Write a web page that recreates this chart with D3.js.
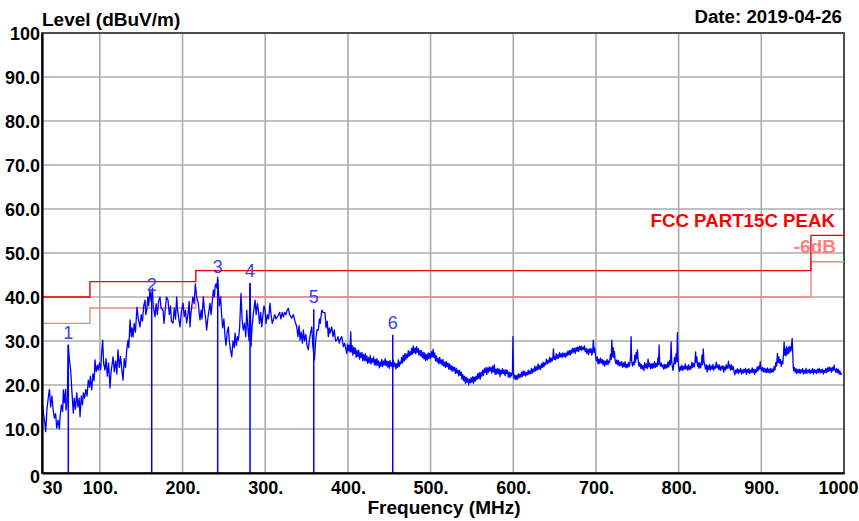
<!DOCTYPE html>
<html>
<head>
<meta charset="utf-8">
<script src="https://cdn.jsdelivr.net/npm/d3@7"></script>
<style>
  html, body { margin: 0; padding: 0; background: #ffffff; }
  svg { display: block; }
  text { font-family: "Liberation Sans", Arial, sans-serif; }
</style>
</head>
<body>
<svg id="chart" width="859" height="521"></svg>
<script>
// ---------------- DATA ----------------
const xTickValues = [30, 100, 200, 300, 400, 500, 600, 700, 800, 900, 1000];
const xTickLabels = ["30", "100.", "200.", "300.", "400.", "500.", "600.", "700.", "800.", "900.", "1000"];
const yTickValues = [0, 10, 20, 30, 40, 50, 60, 70, 80, 90, 100];
const yTickLabels = ["0", "10.0", "20.0", "30.0", "40.0", "50.0", "60.0", "70.0", "80.0", "90.0", "100"];

const limitFreq   = [30, 88, 88, 216, 216, 960, 960, 1000];
const limitLevel  = [40, 40, 43.5, 43.5, 46, 46, 54, 54];
const marginLevel = [34, 34, 37.5, 37.5, 40, 40, 48, 48];

const markerLabels = ["1", "2", "3", "4", "5", "6"];
const markerFreq   = [61.8, 162.7, 242.5, 281.6, 358.7, 454.2];
const markerLevel  = [29.1, 40.0, 44.0, 43.1, 37.2, 31.4];

// measured trace: [frequency MHz, level dBuV/m]
const trace = [
[30,16.2],[31.5,14],[33,12],[34.5,9.4],[36,14.5],[37.5,17],[39,19],[40.5,15],[42,17.5],[43.5,14.3],
[45,12.5],[46.5,13.5],[47.8,10.2],[49.5,12],[51,10],[52,13],[53.5,15.5],[55,14],[55.8,18.9],[57,16],
[58.5,19],[59,14.3],[60.5,16],[61.8,29.1],[63,26],[64.7,23.4],[66,19],[67.9,13.6],[69,17],[70.5,14.5],
[72,18.2],[73.5,15],[75,17],[76,12.8],[77.5,17.5],[79,15.5],[80,18.2],[81.5,17],[83,19],[84.5,17.5],
[86,21.1],[87.5,19.5],[88.5,22],[90.1,18.9],[91.5,22.5],[93,21],[94.1,25.7],[95.5,23],[97,24.5],[98.1,23.4],
[99.5,25],[101,23.5],[102,27],[103.4,30.2],[104.5,25],[106.2,23.4],[107.5,26],[109,22],[110.5,25],[112.3,19.3],
[113.5,23],[115,25],[115.9,26.4],[117.5,23],[119,25.5],[120.5,22.5],[121.9,28],[123.5,24],[125,26.5],[126.5,23.5],
[128,21.1],[129.5,26],[131,24],[132.5,28],[134,30.2],[135,28.5],[136.5,34.8],[138,31],[139,33],[140.1,30.9],
[141.5,34],[143,32],[144.9,37.7],[146.5,35],[148.5,33.2],[150,36],[151.5,34.5],[153,38],[154.6,39.3],[155.5,36],
[156.7,37],[158,40],[159,38],[160.6,41.6],[162,39],[163.5,42],[164.5,38],[166.7,35.5],[168,38.5],[169.5,36],
[171,39],[172.7,40],[174,37.5],[176.4,37],[177.5,34],[179,37],[180.5,40],[182.4,39.3],[184,36],[185.5,38],
[186.5,34.5],[188.5,34.1],[190,37.5],[191.5,35],[192.9,40],[194,37],[195.5,35],[196.9,33.2],[198.5,36.5],[200.6,38.6],
[202,35.5],[203.5,37],[205,34.1],[206.5,36],[208,39],[209,33.2],[210,36],[211.1,37.8],[212.5,40],[214,38.5],
[215.5,43],[217,40],[219.1,38.6],[220,36.5],[221.1,34.8],[222.5,37],[223.5,35],[225.1,40],[226.5,37],[228,35],
[229.2,32.5],[230.5,35],[232,37],[233.2,38.6],[234.5,36],[236,39],[237.2,41.6],[238.5,40],[239.5,42.5],[240.5,43],
[241.5,42],[242.5,44.5],[243.3,41.6],[244.5,38],[246,40],[247.4,35.5],[248.5,33],[250,35],[251.4,31],[252.5,29],
[254,32],[255.4,33.2],[256.5,30],[258,28],[259.5,26.4],[261,30],[262.5,28.5],[263.5,31.8],[265,29],[266.5,31],
[267.5,30.2],[269,33],[270.7,40.8],[272,35],[273.5,32.5],[275,34],[276.5,31],[277.6,37],[279,33],[280.5,30],
[281.6,43.1],[282.8,28.7],[284,33],[285.5,36],[287.7,39.3],[289,36],[290.5,38.5],[291.7,37],[293,34],[294.5,36.5],
[295.8,33.2],[297,35.5],[298.5,38],[299.8,37],[301,34],[302.5,36],[304,35],[305.8,38.6],[307,36],[308.5,34],
[309.8,34.8],[311.5,36],[313,35],[315.9,35.9],[317.5,36.5],[319,35],[320.5,36.5],[321.9,35.5],[323.5,36.5],[325,36],
[326.5,37],[328,37.4],[329.5,36],[331,35.5],[332.1,35.2],[334,36],[336,34.5],[338.1,33.2],[339.5,31],[341,33.5],
[342.1,30.2],[343.5,32],[345,29.5],[346.1,32.5],[347.5,30],[349,31.5],[350.5,29],[352.1,28],[353.5,30.5],[355,32],
[356.3,33.2],[357.5,29],[358.7,27],[359.5,25.7],[361,30],[362.5,32.5],[364.2,32.5],[365.5,35],[366.5,34],[368.4,37],
[370,36.5],[372.3,36.4],[373.5,33],[375,34.5],[376.3,31],[377.5,33],[378.5,31.8],[380.5,33.2],[382,31],[383.5,32.5],
[385,30],[386.5,30.2],[388,31],[389.5,29.5],[391,30.5],[392.5,31],[394.5,28.7],[396,29.5],
[398.6,27.2],[399.5,29.3],[400.5,27.8],[401.5,29],[402.5,27.5],[403.4,32.1],[404.2,27.5],[405,29],[406,26.8],[407,28.6],
[408,27.2],[409,28.4],[410,26.3],[411,27.8],[412,26.5],[413,27.9],[414,25.9],[415,27.3],[416,26.2],[417,27.4],
[418,25.5],[419,26.9],[420,25.6],[421,27.1],[422,25.4],[423,26.6],[424,24.9],[425,26.2],[426,25.1],[427,26.7],
[428,24.8],[429,26],[430,25.2],[431,26.4],[432,24.6],[433,25.8],[434,24.4],[435,26],[436,24.5],[437,25.5],
[438,23.9],[439,25.2],[440,24.3],[441,25.8],[442,24.2],[443,25.4],[444,24.6],[445,26],[446,24.4],[447,25.5],
[448,24.1],[449,25.3],[450,23.8],[451,25.6],[452,24.3],[453,25.1],[454,23.7],[455,25.6],[456,24.2],[457,25],
[458,23.6],[459,24.8],[460,24],[461,25.7],[462,24.2],[463,25.2],[464,24.8],[465,26.3],[466,25],[467,26.8],
[468,25.4],[469,27.2],[470,25.8],[471,27],[472,26.2],[473,27.8],[474,26.5],[475,27.6],[476,26.8],[477,28.3],
[478,27],[479,28.9],[480,27.3],[481,28.4],[482,27.1],[483,28.7],[484,27.4],[485,28.3],[486,26.8],[487,27.9],
[488,26.6],[489,27.8],[490,26.2],[491,27.4],[492,25.9],[493,27.3],[494,25.6],[495,26.9],[496,25.7],[497,27.3],
[498,26],[499,27.2],[500,26.1],[501,27.6],[502,26.4],[503,28.1],[504,26.2],[505,27.3],[506,25.5],[507,26.6],
[508,25.2],[509,26.1],[510,24.8],[511,26.3],[512,24.9],[513,25.7],[514,24.5],[515,25.8],[516,24.3],[517,25.2],
[518,24],[519,25.3],[520,24.2],[521,25],[522,23.6],[523,24.8],[524,23.5],[525,24.4],[526,23.1],[527,24.2],
[528,23.3],[529,24],[530,22.6],[531,23.8],[532,22.7],[533,23.4],[534,22.1],[535,23.3],[536,22.2],[537,23],
[538,21.3],[539,22.4],[540,21],[541,22],[542,20.4],[543,21.8],[544,20.6],[545,21.5],[546,20.1],[547,21.3],
[548,20.5],[549,21.7],[550,20.6],[551,21.9],[552,20.4],[553,21.8],[554,20.9],[555,22],[556,21.2],[557,22.6],
[558,21.5],[559,22.8],[560,21.3],[561,22.9],[562,22],[563,23.4],[564,22.2],[565,23.7],[566,22.8],[567,24],
[568,22.4],[569,23.9],[570,22.9],[571,24.1],[572,23.2],[573,24],[574,22.7],[575,24.3],[576,23],[577,24.6],
[578,22.4],[579,23.6],[580,22.5],[581,23.8],[582,22.6],[583,23.6],[584,21.9],[585,23.4],[586,22.5],[587,23.7],
[588,22.6],[589,23.4],[590,22.1],[591,23.5],[592,22.6],[593,23.3],[594,21.8],[595,22.9],[596,21.7],[597,22.8],
[598,22.1],[599,23],[599.6,31],[600.3,22.4],[601,21.4],[602,22.3],[603,21.2],[604,22.1],[605,21.3],[606,22.6],
[607,21.6],[608,22.4],[609,21.8],[610,22.9],[611,21.9],[612,23.2],[613,22.2],[614,23.1],[615,22],[616,22.8],
[617,22.3],[618,23.4],[619,22.4],[620,23.2],[621,22.6],[622,23.8],[623,22.7],[624,23.6],[625,23],[626,24.3],
[627,23.2],[628,24.1],[629,23.4],[630,24.8],[631,23.6],[632,24.4],[633,23.5],[634,24.8],[635,24],[636,25.2],
[637,24.1],[638,25],[639,24.6],[640,25.9],[641,24.8],[642,25.6],[643,25],[644,26.3],[645,25.2],[646,26.1],
[647,25.4],[648,26.5],[648.6,28.2],[649.5,25.8],[650,26.4],[651,25.7],[652,27.1],[653,26],[654,26.9],[655,26.1],
[656,27.4],[657,26.4],[658,27.1],[659,26.2],[660,27.3],[661,26.5],[662,27.2],[663,26.3],[664,27.3],[665,26.6],
[666,27.7],[667,26.9],[668,27.8],[669,26.8],[670,28],[671,27.2],[672,28.4],[673,27.5],[674,28.3],[675,27.2],
[676,28.5],[677,27.7],[678,28.6],[679,27.6],[680,28.8],[681,28],[682,28.9],[683,27.9],[684,28.6],[685,28.1],
[686,28.9],[687,27.6],[688,28.3],[689,27.2],[690,28.1],[691,26.9],[692,28.2],[693,27.4],[694,28.3],[695,26.8],
[696,27.6],[696.9,30.2],[697.8,27.4],[698.5,28.4],[699.5,26.6],[700.5,25.5],[701.5,26.4],[702.5,24.8],[703.5,25.9],[704.5,24.9],
[705.5,26.1],[706.5,25],[707.5,25.8],[708.5,24.6],[709.5,25.6],[710.5,24.3],[711.5,25.4],[712.5,24.7],[713.5,25.8],[714.5,24.6],
[715.5,25.5],[716.5,25.1],[717.5,27],[718.5,25.8],[719.2,30.2],[720,26.5],[720.8,28.5],[721.6,26.2],[722.4,27.6],[723.2,25.6],
[724.2,24.8],[725.2,25.7],[726.2,24.6],[727.2,25.6],[728.2,24.3],[729.2,25.2],[730.2,24.4],[731.2,25.3],[732.2,24],[733.2,25],
[734.2,24.2],[735.2,25.3],[736.2,23.9],[737.2,24.7],[738.2,24],[739.2,25.1],[740.2,24.2],[741.2,25],[742,27],[742.5,31],
[743.2,25.4],[744.2,24.3],[745.2,25.2],[746.2,24.6],[747,26.8],[747.8,25.2],[748.6,27.4],[749.4,26],[750.2,28],[751,25.6],
[752,24.3],[753,25.1],[754,23.8],[755,24.7],[756,23.6],[757,24.4],[758,23.3],[759,25.1],[760,23.9],[761,24.8],
[762,23.7],[763,25.9],[764,24.1],[765,25],[766,23.7],[767,24.8],[768,23.8],[769,24.9],[770,23.9],[771,25.3],
[772,24],[773,24.9],[774,24.2],[775,26.2],[775.8,24.6],[776.4,29.1],[777,25.4],[778,24.3],[779,25],[780,24.1],
[781,24.6],[782,23.6],[783,24.7],[784,23.8],[785,24.6],[786,23.9],[787,25.2],[788,24.1],[789,25.6],[790,24.6],
[790.9,29.8],[791.6,25.4],[792.4,24.2],[793.2,23.3],[794,24.5],[795,26.3],[796,24.8],[797,27.2],[797.8,25.3],[798.5,31.9],
[799.2,26.2],[800,24],[801,23.1],[802,24.2],[803,23.4],[804,24.5],[805,23.3],[806,24.2],[807,23.6],[808,24.8],
[809,23.6],[810,24.3],[811,23.4],[812,24.6],[813,23.5],[814,24.3],[815,23.6],[816,25.2],[817,24],[818,24.9],
[819,24.1],[819.8,25.4],[820.5,27.5],[821.2,25.2],[822,26.4],[822.8,24.3],[823.6,25.1],[824.5,23.8],[825.5,25.1],[826.5,23.9],
[827.5,24.8],[828.3,26.8],[829,24.6],[829.8,28.2],[830.6,25.3],[831.5,24.6],[832.5,23.6],[833.5,24.6],[834.5,23],[835.5,24.4],
[836.5,23.5],[837.5,24.7],[838.5,23.4],[839.5,24.3],[840.5,23.6],[841.5,24.7],[842.5,23.4],[843.5,24.2],[844.5,23.8],[845.5,25.2],
[846.5,23.9],[847.5,24.6],[848.5,23.5],[849.5,24.5],[850.5,23.3],[851.5,24.2],[852.5,23.6],[853.5,24.4],[854.5,22.9],[855.5,24.1],
[856.5,23.4],[857.5,24.6],[858.5,23.7],[859.5,24.4],[860.3,25.4],[861,23.8],[862,24.5],[863,23.4],[864,24.6],[865,23.5],
[866,24.2],[867,23.1],[868,22.3],[869,23.4],[870,22.8],[871,23.7],[872,22.6],[873,23.5],[874,22.9],[875,23.8],
[876,22.5],[877,23.4],[878,22.7],[879,23.6],[880,22.9],[881,23.8],[882,22.4],[883,23.5],[884,22.8],[885,23.7],
[886,22.6],[887,23.4],[888,22.9],[889,23.9],[890,22.8],[891,23.6],[892,22.4],[893,23.5],[894,22.9],[895,24.1],
[896,23.2],[897,24.3],[898,23.6],[898.6,25.3],[899.5,23.8],[900.5,23.2],[901.5,24],[902.5,23],[903.5,23.8],[904.5,22.9],
[905.5,23.7],[906.5,22.8],[907.5,23.9],[908.5,22.9],[909.5,23.6],[910.5,22.7],[911.5,23.8],[912.5,22.9],[913.5,23.6],[914.5,23],
[915.5,24.2],[916.5,23.4],[917.5,25.1],[918.5,24.3],[919.5,27.2],[920.3,25.1],[921.2,26.4],[922.1,25],[923,25.8],[924,24.2],
[925,25.4],[926,24.8],[926.8,27],[927.6,29.8],[928.3,26.8],[929,28.2],[929.8,26.6],[930.5,28.7],[931.3,27],[932.1,28.4],
[932.8,27.2],[933.6,28.8],[934.4,27.5],[935.2,28.6],[936,27.8],[936.7,29.4],[937.3,30.6],[938,27.5],[938.6,24],[939.3,23.2],
[940,24],[941,22.9],[942,23.7],[943,22.6],[944,23.5],[945,22.8],[946,23.6],[947,22.6],[948,23.5],[949,22.9],
[950,23.7],[951,22.5],[952,23.3],[953,22.7],[954,23.8],[955,22.6],[956,23.4],[957,22.9],[958,23.6],[959,22.6],
[960,23.4],[961,22.8],[962,23.7],[963,22.5],[964,23.5],[965,22.8],[966,23.4],[967,22.6],[968,23.6],[969,22.9],
[970,23.8],[971,22.7],[972,23.5],[973,22.9],[974,23.6],[975,22.5],[976,23.4],[977,22.8],[978,23.7],[979,22.8],
[980,23.9],[981,23.1],[982,24.1],[983,23.2],[984,23.9],[985,22.9],[986,24],[987,23.3],[988,24.5],[989,23.4],
[990,22.9],[991,23.7],[992,22.8],[993,23.6],[994,22.5],[995,23.2],[996,22.4],[997.5,22.7]
];

// ---------------- DRAW ----------------
const svg = d3.select("#chart");
const L = 42, R = 844, T = 33, B = 473;
const x = d3.scaleLinear().domain([30, 1000]).range([L, R]);
const y = d3.scaleLinear().domain([0, 100]).range([B, T]);

const FONT = "Liberation Sans, Arial, sans-serif";

// grid
const grid = svg.append("g");
grid.selectAll("line.v").data(xTickValues.slice(1, -1)).enter().append("line")
  .attr("x1", d => x(d)).attr("x2", d => x(d)).attr("y1", T).attr("y2", B)
  .attr("stroke", "#ababab").attr("stroke-width", 1.6);
grid.selectAll("line.h").data(yTickValues.slice(1, -1)).enter().append("line")
  .attr("x1", L).attr("x2", R).attr("y1", d => y(d)).attr("y2", d => y(d))
  .attr("stroke", "#ababab").attr("stroke-width", 1.6);

// frame
svg.append("rect").attr("x", L).attr("y", T).attr("width", R - L).attr("height", B - T)
  .attr("fill", "none").attr("stroke", "#3a3a3a").attr("stroke-width", 1.8);

// limit lines
const lineGen = d3.line().x(d => x(d[0])).y(d => y(d[1]));
svg.append("path").datum(limitFreq.map((f, i) => [f, marginLevel[i]]))
  .attr("d", lineGen).attr("fill", "none").attr("stroke", "#ff8080").attr("stroke-width", 1.4);
svg.append("path").datum(limitFreq.map((f, i) => [f, limitLevel[i]]))
  .attr("d", lineGen).attr("fill", "none").attr("stroke", "#ee0000").attr("stroke-width", 1.4);

// trace
svg.append("path").datum(trace).attr("d", lineGen)
  .attr("fill", "none").attr("stroke", "#0000ff").attr("stroke-width", 1.3)
  .attr("stroke-linejoin", "round");

// markers
const mk = svg.append("g");
markerFreq.forEach((f, i) => {
  mk.append("line").attr("x1", x(f)).attr("x2", x(f)).attr("y1", y(markerLevel[i])).attr("y2", B)
    .attr("stroke", "#0000ff").attr("stroke-width", 1.5);
  mk.append("text").attr("x", x(f)).attr("y", y(markerLevel[i]) - 6)
    .attr("text-anchor", "middle").attr("font-size", 18).attr("fill", "#3a3aff")
    .style("font-family", FONT).text(markerLabels[i]);
});

// axes
const xAxis = d3.axisBottom(x).tickValues(xTickValues).tickSize(0).tickPadding(7)
  .tickFormat((d, i) => xTickLabels[i]);
const gx = svg.append("g").attr("transform", `translate(0,${B})`).call(xAxis);
gx.select(".domain").attr("stroke", "#000").attr("stroke-width", 2.2);
gx.selectAll("text").attr("font-size", 18).attr("font-weight", "bold").attr("fill", "#000")
  .style("font-family", FONT).attr("dy", "0.75em")
  .attr("text-anchor", (d, i) => i === 0 ? "start" : (i === xTickValues.length - 1 ? "end" : "middle"))
  .attr("dx", (d, i) => i === xTickValues.length - 1 ? 14 : 0);

const yAxis = d3.axisLeft(y).tickValues(yTickValues).tickSize(0).tickPadding(2)
  .tickFormat((d, i) => yTickLabels[i]);
const gy = svg.append("g").attr("transform", `translate(${L},0)`).call(yAxis);
gy.select(".domain").attr("stroke", "#000").attr("stroke-width", 2.2);
gy.selectAll("text").attr("font-size", 18).attr("font-weight", "bold").attr("fill", "#000")
  .style("font-family", FONT).attr("dy", (d) => d === 0 ? "0.5em" : "0.35em");

// titles
svg.append("text").attr("x", 42).attr("y", 25.5).attr("font-size", 19).attr("font-weight", "bold")
  .style("font-family", FONT).text("Level (dBuV/m)");
svg.append("text").attr("x", 842).attr("y", 23).attr("text-anchor", "end").attr("font-size", 18.7)
  .attr("font-weight", "bold").style("font-family", FONT).text("Date: 2019-04-26");
svg.append("text").attr("x", 444).attr("y", 514).attr("text-anchor", "middle").attr("font-size", 19)
  .attr("font-weight", "bold").style("font-family", FONT).text("Frequency (MHz)");

// limit labels
svg.append("text").attr("x", 835).attr("y", 227).attr("text-anchor", "end").attr("font-size", 18.7)
  .attr("font-weight", "bold").attr("fill", "#ff0000").style("font-family", FONT).text("FCC PART15C PEAK");
svg.append("text").attr("x", 836).attr("y", 253).attr("text-anchor", "end").attr("font-size", 19)
  .attr("font-weight", "bold").attr("fill", "#ff7f7f").style("font-family", FONT).text("-6dB");
</script>
</body>
</html>
